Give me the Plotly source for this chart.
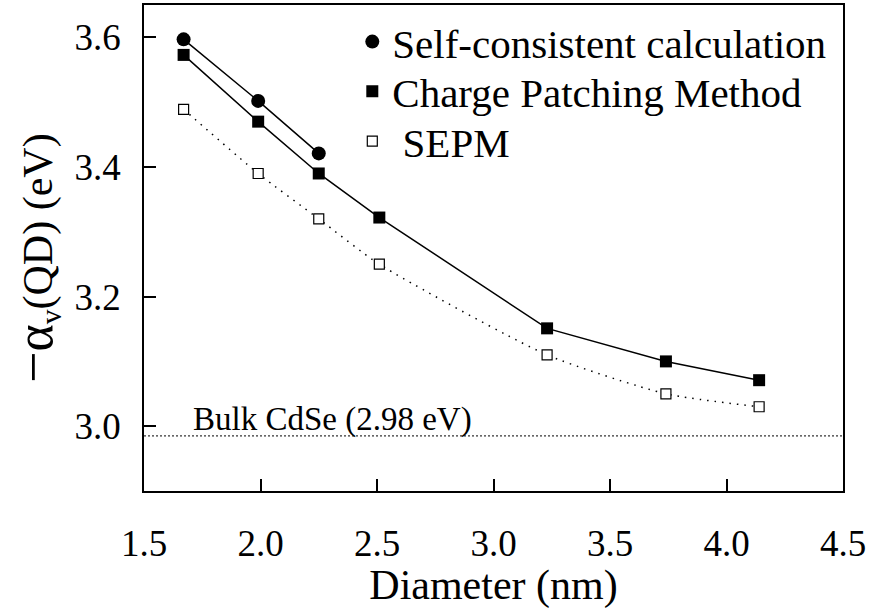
import plotly.graph_objects as go

# ---- data ----
diam_sc = [1.67, 1.99, 2.25]
alpha_sc = [3.597, 3.502, 3.421]

diam = [1.67, 1.99, 2.25, 2.51, 3.23, 3.74, 4.14]
alpha_cpm = [3.573, 3.470, 3.390, 3.322, 3.151, 3.100, 3.071]
alpha_sepm = [3.489, 3.390, 3.320, 3.250, 3.110, 3.050, 3.030]

bulk_value = 2.985
bulk_label = "Bulk CdSe (2.98 eV)"

x_ticks = [1.5, 2.0, 2.5, 3.0, 3.5, 4.0, 4.5]
y_ticks = [3.0, 3.2, 3.4, 3.6]

FONT = "Liberation Serif, Times New Roman, serif"

fig = go.Figure()

# data traces
fig.add_trace(go.Scatter(
    x=diam, y=alpha_sepm, mode="lines+markers", showlegend=False,
    line=dict(color="black", width=1.5, dash="1.5px,6px", shape="spline", smoothing=0.6),
    marker=dict(symbol="square", size=10, color="white", line=dict(color="black", width=1.2)),
))
fig.add_trace(go.Scatter(
    x=diam, y=alpha_cpm, mode="lines+markers", showlegend=False,
    line=dict(color="black", width=1.5),
    marker=dict(symbol="square", size=12, color="black"),
))
fig.add_trace(go.Scatter(
    x=diam_sc, y=alpha_sc, mode="lines+markers", showlegend=False,
    line=dict(color="black", width=1.5),
    marker=dict(symbol="circle", size=14, color="black"),
))

# legend-only entries (markers only, as in the reference)
fig.add_trace(go.Scatter(
    x=[None], y=[None], mode="markers", name="Self-consistent calculation",
    marker=dict(symbol="circle", size=14, color="black"), legend="legend",
))
fig.add_trace(go.Scatter(
    x=[None], y=[None], mode="markers", name="Charge Patching Method",
    marker=dict(symbol="square", size=12, color="black"), legend="legend2",
))
fig.add_trace(go.Scatter(
    x=[None], y=[None], mode="markers", name="\u00a0SEPM",
    marker=dict(symbol="square", size=10, color="white", line=dict(color="black", width=1.2)),
    legend="legend3",
))

# bulk reference line
fig.add_shape(type="line", xref="paper", x0=0, x1=1, yref="y", y0=bulk_value, y1=bulk_value,
              line=dict(color="black", width=1, dash="2px,2px"))
fig.add_annotation(x=1.70, y=bulk_value, xref="x", yref="y", text=bulk_label,
                   showarrow=False, xanchor="left", yanchor="bottom", yshift=-4,
                   font=dict(family=FONT, size=33, color="black"))

# y-axis title (as rotated text)
fig.add_annotation(x=0, y=0.5, xref="paper", yref="paper", xanchor="center", yanchor="middle",
                   xshift=-110, yshift=-10, textangle=-90, showarrow=False,
                   text='<span style="font-size:56px">\u2212</span>'
                        '<span style="font-size:52px">\u03b1</span>'
                        '<sub>v</sub>(QD) (eV)',
                   font=dict(family=FONT, size=42, color="black"))

leg_common = dict(xanchor="left", yanchor="middle", bgcolor="rgba(0,0,0,0)",
                  borderwidth=0, font=dict(family=FONT, size=41, color="black"),
                  itemsizing="trace")

axis_common = dict(
    showline=True, linecolor="black", linewidth=1.5, mirror=True,
    ticks="inside", ticklen=12, tickwidth=1.5, tickcolor="black",
    showgrid=False, zeroline=False,
    tickfont=dict(family=FONT, size=37, color="black"),
)

fig.update_layout(
    width=872, height=609,
    margin=dict(l=144, r=29, t=3, b=118),
    paper_bgcolor="white", plot_bgcolor="white",
    font=dict(family=FONT, color="black"),
    xaxis=dict(range=[1.5, 4.5], tickvals=x_ticks,
               ticktext=[f"{v:.1f}" for v in x_ticks], ticklabelstandoff=19,
               title=dict(text="Diameter (nm)", font=dict(family=FONT, size=42), standoff=2),
               **axis_common),
    yaxis=dict(range=[2.9, 3.65], tickvals=y_ticks,
               ticktext=[f"{v:.1f}" for v in y_ticks], ticklabelstandoff=14,
               **axis_common),
    legend=dict(x=0.298, y=0.924, **leg_common),
    legend2=dict(x=0.298, y=0.822, **leg_common),
    legend3=dict(x=0.298, y=0.719, **leg_common),
)

fig.write_html("out.html")
